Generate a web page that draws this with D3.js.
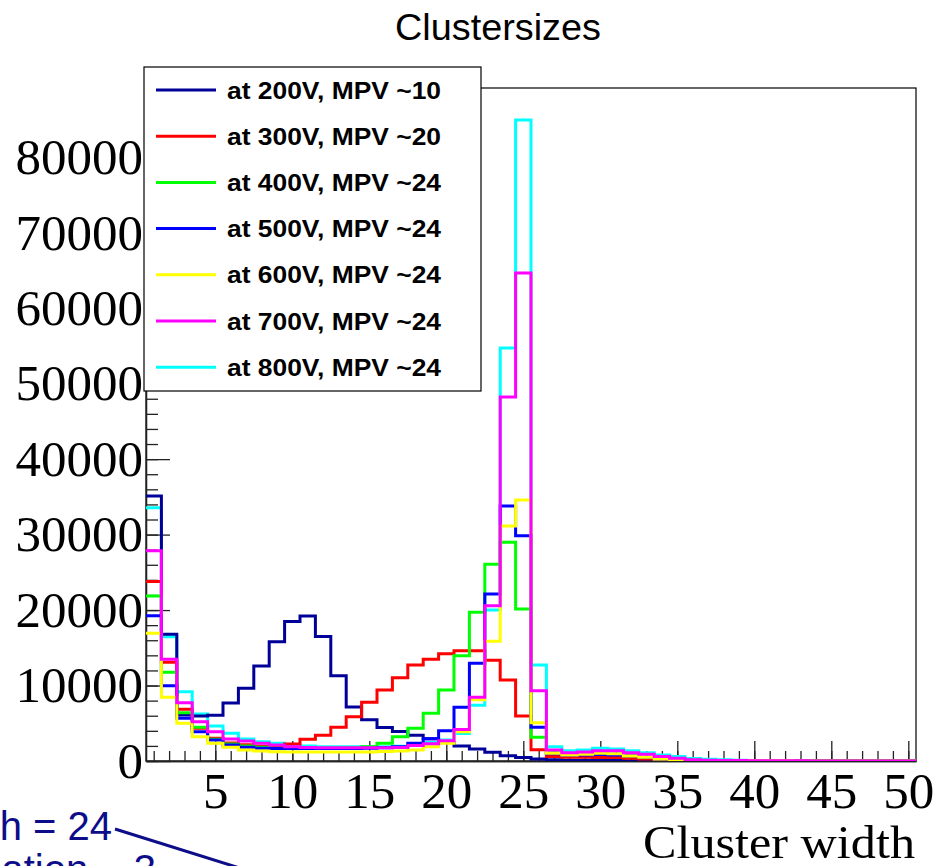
<!DOCTYPE html>
<html>
<head>
<meta charset="utf-8">
<script src="https://cdn.jsdelivr.net/npm/d3@7"></script>
<style>
  body { margin: 0; background: #fff; }
  svg { display: block; }
</style>
</head>
<body>
<svg id="chart" width="934" height="866"></svg>
<script>
// bin centres (cluster width 1..50)
const bins = d3.range(1, 51);

// counts per bin
const v200 = [35100, 16800, 6100, 5950, 6050, 7700, 9650, 12600, 15800, 18500, 19200, 16500, 11300, 7150, 5450, 4450, 3900, 3400, 2950, 2450, 2000, 1600, 1150, 700, 450, 250, 150, 110, 90, 70, 50, 40, 30, 25, 20, 15, 10, 10, 8, 6, 5, 4, 3, 3, 2, 2, 1, 1, 1, 1];
const v300 = [23800, 13100, 6850, 4350, 3000, 2400, 2150, 1950, 2000, 2250, 2870, 3400, 4460, 5870, 7770, 9410, 11040, 12720, 13470, 14220, 14620, 14620, 13340, 10730, 5960, 1500, 600, 500, 500, 450, 450, 350, 250, 180, 120, 80, 60, 40, 30, 25, 20, 15, 12, 10, 8, 6, 5, 4, 3, 3];
const v400 = [21860, 11750, 6400, 4460, 2870, 2250, 1990, 1810, 1700, 1700, 1700, 1700, 1720, 1770, 1900, 2340, 3220, 4330, 6320, 9410, 13960, 19700, 26060, 28970, 20140, 3140, 1100, 850, 900, 950, 900, 700, 500, 300, 180, 110, 70, 50, 40, 30, 25, 20, 15, 12, 10, 8, 6, 5, 4, 3];
const v500 = [19260, 9980, 5650, 3890, 2780, 2120, 1810, 1680, 1650, 1650, 1650, 1650, 1650, 1650, 1700, 1750, 1900, 2340, 2960, 4020, 7110, 12940, 22130, 33790, 29860, 4460, 950, 750, 800, 850, 800, 650, 450, 280, 160, 100, 60, 45, 35, 25, 20, 15, 12, 10, 8, 6, 5, 4, 3, 3];
const v600 = [16920, 8440, 4990, 3210, 2340, 1810, 1460, 1320, 1240, 1200, 1200, 1200, 1200, 1200, 1200, 1250, 1320, 1460, 1900, 2340, 3880, 8100, 15880, 31130, 34580, 5080, 1020, 800, 900, 1020, 950, 660, 490, 270, 170, 110, 70, 50, 40, 30, 25, 20, 15, 12, 10, 8, 6, 5, 4, 3];
const v700 = [27870, 13470, 7730, 5210, 3890, 2910, 2650, 2340, 2120, 1900, 1800, 1750, 1750, 1750, 1750, 1750, 1800, 2040, 2300, 2690, 4190, 8440, 20580, 48230, 64660, 9320, 1460, 1100, 1190, 1370, 1350, 1100, 880, 600, 380, 170, 100, 70, 50, 40, 30, 25, 20, 15, 12, 10, 8, 6, 5, 4];
const v800 = [33570, 16470, 9190, 6230, 4640, 3670, 2910, 2560, 2340, 2120, 1990, 1900, 1900, 1900, 1900, 1900, 1950, 2150, 2450, 2780, 3660, 7400, 20010, 54720, 84930, 12720, 1900, 1370, 1460, 1680, 1590, 1370, 1100, 800, 600, 330, 240, 150, 100, 70, 50, 40, 30, 25, 20, 15, 12, 10, 8, 6];

const labels = ["at 200V, MPV ~10", "at 300V, MPV ~20", "at 400V, MPV ~24", "at 500V, MPV ~24",
                "at 600V, MPV ~24", "at 700V, MPV ~24", "at 800V, MPV ~24"];
const colors = ["#000099", "#ff0000", "#00ff00", "#0000ff", "#ffff00", "#ff00ff", "#00ffff"];

const xTicks = [5, 10, 15, 20, 25, 30, 35, 40, 45, 50];
const yTicks = [0, 10000, 20000, 30000, 40000, 50000, 60000, 70000, 80000];

const series = [v200, v300, v400, v500, v600, v700, v800].map((v, i) => ({
  name: labels[i], color: colors[i], values: v
}));

const svg = d3.select("#chart");
const frame = { left: 146, right: 916, top: 88, bottom: 761 };

const x = d3.scaleLinear().domain([0.5, 50.5]).range([frame.left, frame.right]);
const yMax = 1.05 * d3.max(series, s => d3.max(s.values));
const y = d3.scaleLinear().domain([0, yMax]).range([frame.bottom, frame.top]);

// frame box
svg.append("rect")
  .attr("x", frame.left).attr("y", frame.top)
  .attr("width", frame.right - frame.left).attr("height", frame.bottom - frame.top)
  .attr("fill", "none").attr("stroke", "#000").attr("stroke-width", 1.2);

// y axis: minor then major ticks (pointing inwards, ROOT style)
const gyMinor = svg.append("g").attr("transform", `translate(${frame.left},0)`)
  .call(d3.axisLeft(y).tickValues(d3.range(0, yMax, 2000)).tickSize(-12).tickFormat("").tickSizeOuter(0));
const gy = svg.append("g").attr("transform", `translate(${frame.left},0)`)
  .call(d3.axisLeft(y).tickValues(yTicks).tickFormat(d3.format("d")).tickSize(-24).tickPadding(3).tickSizeOuter(0));

// x axis
const gxMinor = svg.append("g").attr("transform", `translate(0,${frame.bottom})`)
  .call(d3.axisBottom(x).tickValues(bins).tickSize(-10).tickFormat("").tickSizeOuter(0));
const gx = svg.append("g").attr("transform", `translate(0,${frame.bottom})`)
  .call(d3.axisBottom(x).tickValues(xTicks).tickSize(-20).tickPadding(11).tickSizeOuter(0));

[gyMinor, gy, gxMinor, gx].forEach(g => {
  g.selectAll("line, path").attr("stroke", "#222").attr("stroke-width", 1.3);
});
[gy, gx].forEach(g => {
  g.attr("font-family", "'Liberation Serif', 'Times New Roman', serif").attr("font-size", 51);
  g.selectAll("text").attr("fill", "#000");
});

// histograms
svg.append("clipPath").attr("id", "clip")
  .append("rect")
  .attr("x", frame.left).attr("y", frame.top - 2)
  .attr("width", frame.right - frame.left).attr("height", frame.bottom - frame.top + 2);

const line = d3.line().x(d => x(d[0])).y(d => y(d[1]));
// cyan drawn first (largest maximum), the rest on top
const drawOrder = [6, 0, 1, 2, 3, 4, 5];

svg.append("g").attr("clip-path", "url(#clip)")
  .selectAll("path")
  .data(drawOrder.map(i => series[i]))
  .enter()
  .append("path")
    .attr("fill", "none")
    .attr("stroke", d => d.color)
    .attr("stroke-width", 3)
    .attr("d", d => line(d.values.flatMap((v, i) => [[bins[i] - 0.5, v], [bins[i] + 0.5, v]])));

// legend
const lg = svg.append("g").classed("legend", true);
lg.append("rect")
  .attr("x", 144).attr("y", 67).attr("width", 337).attr("height", 324)
  .attr("fill", "#fff").attr("stroke", "#000").attr("stroke-width", 1.2);

lg.selectAll("line.ldot")
  .data(series)
  .enter()
  .append("line")
    .attr("x1", 156).attr("x2", 216)
    .attr("y1", (d, i) => 90 + i * 46.2)
    .attr("y2", (d, i) => 90 + i * 46.2)
    .attr("stroke", d => d.color)
    .attr("stroke-width", 3);

lg.selectAll("text.llab")
  .data(series)
  .enter()
  .append("text")
    .attr("x", 227)
    .attr("y", (d, i) => 90 + i * 46.2)
    .attr("dy", "0.36em")
    .attr("textLength", 214)
    .attr("lengthAdjust", "spacingAndGlyphs")
    .style("font-family", "'Liberation Sans', Arial, sans-serif")
    .style("font-weight", "bold")
    .style("font-size", "24px")
    .text(d => d.name);

// title
svg.append("text")
  .attr("x", 395).attr("y", 40)
  .attr("textLength", 206).attr("lengthAdjust", "spacingAndGlyphs")
  .style("font-family", "'Liberation Sans', Arial, sans-serif")
  .style("font-size", "36px")
  .text("Clustersizes");

// x axis title
svg.append("text")
  .attr("x", 643).attr("y", 858)
  .attr("textLength", 272).attr("lengthAdjust", "spacingAndGlyphs")
  .style("font-family", "'Liberation Serif', 'Times New Roman', serif")
  .style("font-size", "46px")
  .text("Cluster width");

// overlapping annotation from the slide underneath (cut at the page edge)
const navy = "#0d0d8a";
svg.append("text")
  .attr("x", 112).attr("y", 840).attr("text-anchor", "end")
  .style("font-family", "'Liberation Sans', Arial, sans-serif")
  .style("font-size", "40px").attr("fill", navy)
  .text("width = 24");
svg.append("text")
  .attr("x", 156).attr("y", 883).attr("text-anchor", "end")
  .style("font-family", "'Liberation Sans', Arial, sans-serif")
  .style("font-size", "40px").attr("fill", navy)
  .text("deviation ~ 3");
svg.append("line")
  .attr("x1", 115).attr("y1", 829).attr("x2", 262).attr("y2", 875)
  .attr("stroke", navy).attr("stroke-width", 3);
</script>
</body>
</html>
